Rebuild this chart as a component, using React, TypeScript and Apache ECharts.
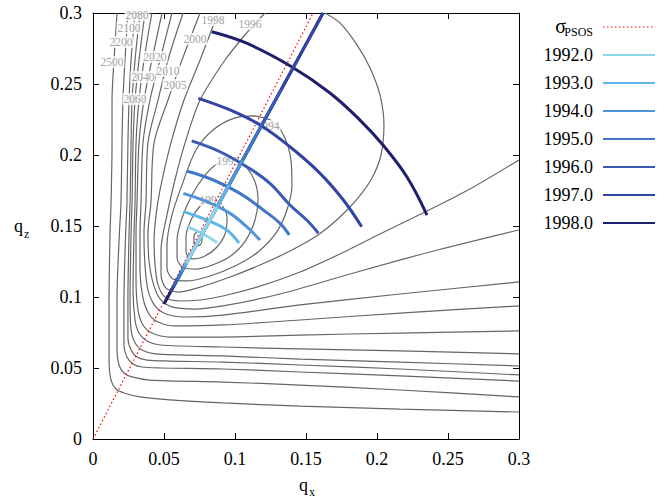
import React, { useEffect, useRef } from 'react';
import * as echarts from 'echarts';

const FONT = '"Liberation Serif", "Times New Roman", Times, serif';

// ---------- axes ----------
const xTicks = [0, 0.05, 0.1, 0.15, 0.2, 0.25, 0.3];
const yTicks = [0, 0.05, 0.1, 0.15, 0.2, 0.25, 0.3];

// ---------- contour lines (qx, qz) ----------
const c2500 = [[0.0169,0.300],[0.0148,0.2669],[0.0134,0.2387],[0.0134,0.2085],[0.0127,0.1662],[0.0120,0.1451],[0.0113,0.0979],[0.0113,0.0556],[0.0127,0.0415],[0.0162,0.0352],[0.0218,0.0324],[0.0331,0.0296],[0.0542,0.0275],[0.0915,0.0254],[0.1458,0.0232],[0.2162,0.0211],[0.300,0.0190]];
const c2200 = [[0.0246,0.300],[0.0225,0.2669],[0.0211,0.2387],[0.0204,0.2085],[0.0197,0.1662],[0.0186,0.1451],[0.0169,0.0979],[0.0169,0.0627],[0.0183,0.0521],[0.0218,0.0465],[0.0275,0.0437],[0.0401,0.0415],[0.0915,0.0401],[0.1458,0.0380],[0.2162,0.0345],[0.300,0.0296]];
const c2100 = [[0.0296,0.300],[0.0268,0.2669],[0.0254,0.2387],[0.0246,0.2085],[0.0239,0.1662],[0.0230,0.1451],[0.0218,0.0979],[0.0218,0.0662],[0.0239,0.0577],[0.0282,0.0528],[0.0345,0.0507],[0.0472,0.0500],[0.0915,0.0493],[0.1458,0.0472],[0.2162,0.0444],[0.300,0.0408]];
const c2080 = [[0.0331,0.300],[0.0296,0.2669],[0.0275,0.2387],[0.0268,0.2085],[0.0261,0.1662],[0.0254,0.1451],[0.0246,0.0979],[0.0246,0.0711],[0.0268,0.0627],[0.0310,0.0577],[0.0380,0.0556],[0.0542,0.0549],[0.0915,0.0542],[0.1458,0.0521],[0.2162,0.0493],[0.300,0.0451]];
const c2060 = [[0.0366,0.300],[0.0324,0.2669],[0.0296,0.2387],[0.0282,0.2085],[0.0275,0.1662],[0.0268,0.1451],[0.0261,0.0979],[0.0268,0.0768],[0.0296,0.0676],[0.0345,0.0627],[0.0437,0.0599],[0.0915,0.0585],[0.1458,0.0563],[0.2162,0.0542],[0.300,0.0514]];
const c2040 = [[0.0415,0.300],[0.0359,0.2669],[0.0324,0.2387],[0.0303,0.2085],[0.0296,0.1662],[0.0289,0.1451],[0.0282,0.1049],[0.0296,0.0838],[0.0324,0.0746],[0.0380,0.0690],[0.0472,0.0662],[0.0915,0.0648],[0.1458,0.0634],[0.2162,0.0620],[0.300,0.0599]];
const c2020 = [[0.0486,0.300],[0.0415,0.2669],[0.0359,0.2387],[0.0324,0.2085],[0.0310,0.1662],[0.0303,0.1451],[0.0303,0.1120],[0.0317,0.0908],[0.0352,0.0803],[0.0415,0.0746],[0.0542,0.0718],[0.0915,0.0718],[0.1458,0.0732],[0.2162,0.0746],[0.300,0.0761]];
const c2010 = [[0.0556,0.300],[0.0472,0.2669],[0.0401,0.2387],[0.0352,0.2085],[0.0338,0.1662],[0.0331,0.1451],[0.0331,0.1190],[0.0352,0.0993],[0.0394,0.0880],[0.0458,0.0824],[0.0577,0.0796],[0.0915,0.0803],[0.1458,0.0838],[0.2162,0.0887],[0.300,0.0937]];
const c2005 = [[0.0634,0.300],[0.0528,0.2669],[0.0458,0.2387],[0.0387,0.2085],[0.0373,0.1662],[0.0359,0.1451],[0.0366,0.1225],[0.0387,0.1049],[0.0437,0.0937],[0.0514,0.0880],[0.0648,0.0859],[0.0915,0.0873],[0.1458,0.0944],[0.2162,0.1021],[0.300,0.1106]];
const c2000 = [[0.0754,0.300],[0.0627,0.2669],[0.0528,0.2387],[0.0430,0.2085],[0.0408,0.1662],[0.0387,0.1451],[0.0394,0.1261],[0.0423,0.1099],[0.0472,0.0986],[0.0556,0.0930],[0.0718,0.0915],[0.0915,0.0937],[0.1317,0.1021],[0.1810,0.1162],[0.2373,0.1317],[0.300,0.1472]];
const c1998 = [[0.0880,0.300],[0.0754,0.2669],[0.0641,0.2387],[0.0549,0.2085],[0.0472,0.1754],[0.0444,0.1577],[0.0430,0.1401],[0.0437,0.1225],[0.0458,0.1085],[0.0507,0.1000],[0.0613,0.0972],[0.0754,0.0979],[0.0915,0.1007],[0.1176,0.1077],[0.1458,0.1176],[0.1739,0.1303],[0.2021,0.1444],[0.2352,0.1606],[0.2655,0.1761],[0.300,0.1965]];
const c1996 = [[0.1211,0.300],[0.1070,0.2845],[0.0930,0.2669],[0.0754,0.2387],[0.0648,0.2085],[0.0577,0.1824],[0.0521,0.1577],[0.0479,0.1331],[0.0479,0.1155],[0.0514,0.1063],[0.0599,0.1035],[0.0754,0.1070],[0.0965,0.1141],[0.1176,0.1225],[0.1387,0.1324],[0.1585,0.1437],[0.1739,0.1563],[0.1866,0.1697],[0.1965,0.1838],[0.2028,0.2000],[0.2049,0.2211],[0.2021,0.2423],[0.1951,0.2613],[0.1859,0.2775],[0.1739,0.2930],[0.1634,0.300]];
const c1994 = [[0.1141,0.2275],[0.1261,0.2239],[0.1345,0.2134],[0.1394,0.1965],[0.1401,0.1789],[0.1366,0.1613],[0.1289,0.1451],[0.1162,0.1317],[0.1000,0.1218],[0.0824,0.1148],[0.0662,0.1113],[0.0563,0.1127],[0.0521,0.1204],[0.0521,0.1366],[0.0556,0.1577],[0.0627,0.1789],[0.0725,0.2035],[0.0845,0.2176],[0.1000,0.2261],[0.1141,0.2275]];
const c1993 = [[0.0965,0.1979],[0.1070,0.1923],[0.1141,0.1810],[0.1162,0.1683],[0.1141,0.1542],[0.1077,0.1401],[0.0979,0.1296],[0.0859,0.1232],[0.0732,0.1197],[0.0641,0.1204],[0.0592,0.1275],[0.0592,0.1401],[0.0627,0.1556],[0.0697,0.1718],[0.0789,0.1859],[0.0880,0.1944],[0.0965,0.1979]];
const c1992 = [[0.0838,0.1704],[0.0908,0.1648],[0.0944,0.1556],[0.0930,0.1444],[0.0866,0.1345],[0.0775,0.1282],[0.0697,0.1268],[0.0655,0.1317],[0.0655,0.1423],[0.0690,0.1542],[0.0754,0.1641],[0.0838,0.1704]];
const cMin = [[0.0739,0.1465],[0.0761,0.1444],[0.0768,0.1401],[0.0754,0.1366],[0.0725,0.1359],[0.0711,0.1387],[0.0711,0.1430],[0.0739,0.1465]];

// contour label texts and their positions
const contourLabelText = ['1992','1993','1994','1996','1998','2000','2005','2010','2020','2040','2060','2080','2100','2200','2500'];
const contourLabelX = [0.0831,0.0951,0.1232,0.1106,0.0845,0.0718,0.0577,0.0528,0.0437,0.0352,0.0296,0.0310,0.0254,0.0197,0.0134];
const contourLabelY = [0.1683,0.1958,0.2204,0.2923,0.2951,0.2817,0.2493,0.2592,0.2690,0.2549,0.2394,0.2986,0.2894,0.2796,0.2655];

// ---------- sigma_PSOS line ----------
const sigmaPSOS = [[0, 0], [0.155, 0.3]];

// ---------- yearly arcs ----------
const arc1992 = [[0.0660,0.1495],[0.0765,0.1449],[0.0873,0.1384]];
const arc1993 = [[0.0636,0.1601],[0.0801,0.1542],[0.0942,0.1472],[0.1028,0.1380]];
const arc1994 = [[0.0636,0.1730],[0.0801,0.1671],[0.0965,0.1589],[0.1082,0.1495],[0.1176,0.1401]];
const arc1995 = [[0.0660,0.1887],[0.0847,0.1824],[0.1035,0.1730],[0.1199,0.1613],[0.1317,0.1519],[0.1382,0.1437]];
const arc1996 = [[0.0695,0.2099],[0.0894,0.2023],[0.1082,0.1918],[0.1246,0.1801],[0.1387,0.1648],[0.1505,0.1542],[0.1587,0.1449]];
const arc1997 = [[0.0742,0.2399],[0.0965,0.2317],[0.1176,0.2211],[0.1387,0.2058],[0.1599,0.1871],[0.1763,0.1683],[0.1892,0.1495]];
const arc1998 = [[0.0836,0.2868],[0.1082,0.2787],[0.1399,0.2622],[0.1669,0.2437],[0.1880,0.2246],[0.2042,0.2070],[0.2211,0.1845],[0.2352,0.1577]];

// ---------- yearly radial segments ----------
const rad1992 = [[0.0658,0.1239],[0.0873,0.1634]];
const rad1993 = [[0.0646,0.1218],[0.0958,0.1789]];
const rad1994 = [[0.0623,0.1176],[0.1054,0.1965]];
const rad1995 = [[0.0592,0.1120],[0.1181,0.2197]];
const rad1996 = [[0.0566,0.1070],[0.1323,0.2458]];
const rad1997 = [[0.0546,0.1035],[0.1620,0.3000]];
const rad1998 = [[0.0500,0.0951],[0.1620,0.3000]];

const years = ['1992.0','1993.0','1994.0','1995.0','1996.0','1997.0','1998.0'];
const arcs = [arc1992, arc1993, arc1994, arc1995, arc1996, arc1997, arc1998];
const radials = [rad1992, rad1993, rad1994, rad1995, rad1996, rad1997, rad1998];
const contours = [c2500, c2200, c2100, c2080, c2060, c2040, c2020, c2010, c2005, c2000, c1998, c1996, c1994, c1993, c1992, cMin];

const yearColors = ['#8ed6ea', '#60b6e6', '#4f95d8', '#4276c6', '#395ab6', '#3243a4', '#1f1f6c'];

export default function App() {
  const ref = useRef<HTMLDivElement>(null);

  useEffect(() => {
    if (!ref.current) return;
    const chart = echarts.init(ref.current, null, { renderer: 'svg' });

    const series: any[] = [];
    contours.forEach((c, i) => {
      series.push({
        type: 'line', name: 'contour' + i, data: c, symbol: 'none', showSymbol: false,
        smooth: 0.3, clip: true, silent: true, z: 1,
        lineStyle: { color: '#666666', width: 1.2 },
      });
    });
    series.push({
      type: 'scatter', name: 'levels', z: 2, silent: true,
      data: contourLabelText.map((t, i) => [contourLabelX[i], contourLabelY[i], t]),
      symbolSize: 1, color: '#ffffff', itemStyle: { color: 'rgba(255,255,255,0)' },
      label: {
        show: true, position: 'inside', formatter: (p: any) => p.value[2],
        color: '#888888', fontFamily: FONT, fontSize: 11.5,
        textBorderWidth: 0, textBorderColor: 'transparent',
        backgroundColor: '#ffffff', padding: [0, 1, 0, 1],
      },
    });
    series.push({
      type: 'line', name: 'sigma', data: sigmaPSOS, symbol: 'none', z: 3, silent: true,
      lineStyle: { color: '#ff0000', width: 1.2, type: [1.5, 2.5] },
    });
    arcs.forEach((a, i) => {
      series.push({
        type: 'line', name: years[i], data: a, symbol: 'none', smooth: 0.4, z: 4, silent: true,
        lineStyle: { color: yearColors[i], width: 3 },
      });
    });
    for (let i = radials.length - 1; i >= 0; i--) {
      series.push({
        type: 'line', name: years[i] + ' radial', data: radials[i], symbol: 'none', z: 5, silent: true,
        lineStyle: { color: yearColors[i], width: 3 },
      });
    }

    const legendRows: any[] = [];
    legendRows.push({ type: 'text', x: 566, y: 26, style: { text: 'σ', fontSize: 20, fontFamily: FONT, fill: '#000', align: 'right', verticalAlign: 'middle' } });
    legendRows.push({ type: 'text', x: 593, y: 32, style: { text: 'PSOS', fontSize: 12, fontFamily: FONT, fill: '#000', align: 'right', verticalAlign: 'middle' } });
    legendRows.push({ type: 'line', shape: { x1: 603, y1: 27, x2: 655, y2: 27 }, style: { stroke: '#ff0000', lineWidth: 1, lineDash: [1.5, 2.5] } });
    years.forEach((y, i) => {
      const yy = 55 + 28 * i;
      legendRows.push({ type: 'text', x: 593, y: yy, style: { text: y, fontSize: 18, fontFamily: FONT, fill: '#000', align: 'right', verticalAlign: 'middle' } });
      legendRows.push({ type: 'line', shape: { x1: 603, y1: yy, x2: 655, y2: yy }, style: { stroke: yearColors[i], lineWidth: 2 } });
    });

    const axisCommon = {
      type: 'value',
      min: xTicks[0],
      max: xTicks[xTicks.length - 1],
      interval: xTicks[1] - xTicks[0],
      splitLine: { show: false },
      axisLine: { show: true, onZero: false, lineStyle: { color: '#000', width: 1 } },
      axisTick: { show: true, inside: true, length: 6, lineStyle: { color: '#000', width: 1 } },
    };
    const labelStyle = { color: '#000', fontFamily: FONT, fontSize: 18, margin: 11 };

    chart.setOption({
      animation: false,
      backgroundColor: '#ffffff',
      grid: { left: 93, top: 13, width: 426, height: 426 },
      xAxis: [
        { ...axisCommon, position: 'bottom', axisLabel: { ...labelStyle } },
        { ...axisCommon, position: 'top', axisLabel: { show: false } },
      ],
      yAxis: [
        { ...axisCommon, min: yTicks[0], max: yTicks[yTicks.length - 1], interval: yTicks[1] - yTicks[0], position: 'left', axisLabel: { ...labelStyle } },
        { ...axisCommon, min: yTicks[0], max: yTicks[yTicks.length - 1], interval: yTicks[1] - yTicks[0], position: 'right', axisLabel: { show: false } },
      ],
      series,
      graphic: [
        { type: 'text', x: 299, y: 485, style: { text: 'q', fontSize: 18, fontFamily: FONT, fill: '#000', align: 'left', verticalAlign: 'middle' } },
        { type: 'text', x: 309, y: 492, style: { text: 'x', fontSize: 12, fontFamily: FONT, fill: '#000', align: 'left', verticalAlign: 'middle' } },
        { type: 'text', x: 14, y: 226, style: { text: 'q', fontSize: 18, fontFamily: FONT, fill: '#000', align: 'left', verticalAlign: 'middle' } },
        { type: 'text', x: 24, y: 234, style: { text: 'z', fontSize: 12, fontFamily: FONT, fill: '#000', align: 'left', verticalAlign: 'middle' } },
        ...legendRows,
      ],
    });

    return () => chart.dispose();
  }, []);

  return <div ref={ref} style={{ position: 'fixed', left: 0, top: 0, width: 669, height: 500, background: '#fff' }} />;
}
